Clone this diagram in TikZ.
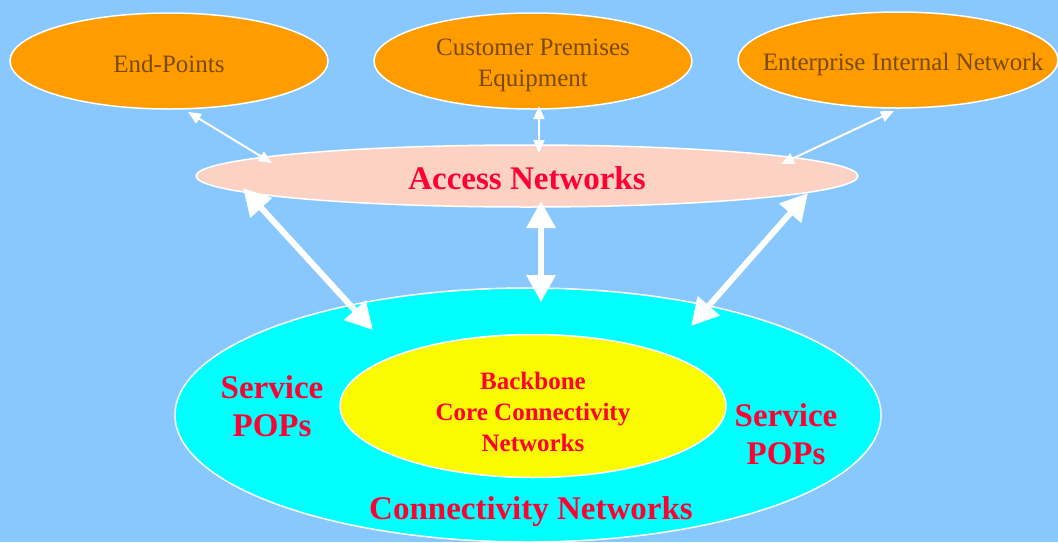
\documentclass[tikz,border=0pt]{standalone}
\usepackage{fontspec}
\setmainfont{Liberation Serif}
\usetikzlibrary{shapes.geometric,arrows.meta,calc}
\definecolor{bgblue}{RGB}{136,200,255}
\definecolor{orng}{RGB}{255,156,0}
\definecolor{pinkfill}{RGB}{252,210,196}
\definecolor{cyanfill}{RGB}{0,255,255}
\definecolor{yellowfill}{RGB}{250,250,0}
\definecolor{browntxt}{RGB}{122,74,0}
\definecolor{redtxt}{RGB}{255,0,51}
\tikzset{
  oval/.style={ellipse, draw=white, line width=1.5pt, inner sep=0pt, outer sep=0pt},
  topoval/.style={oval, fill=orng, minimum width=318pt, minimum height=96pt},
  toptext/.style={text=browntxt, font=\fontsize{25}{31}\selectfont, align=center, inner sep=0pt},
  redtext/.style={text=redtxt, font=\bfseries\fontsize{33}{38}\selectfont, align=center, inner sep=0pt},
  coretext/.style={text=redtxt, font=\bfseries\fontsize{25}{31}\selectfont, align=center, inner sep=0pt},
  thinarrow/.style={white, line width=2pt, {Triangle[length=13pt,width=11pt]}-{Triangle[length=13pt,width=11pt]}},
  thickarrow/.style={white, line width=6pt, {Triangle[length=27pt,width=28pt]}-{Triangle[length=27pt,width=28pt]}}
}
\begin{document}
\begin{tikzpicture}[x=1pt,y=-1pt]
\fill[bgblue] (0,0) rectangle (1058,542);
\useasboundingbox (0,0) rectangle (1058,542);
% top ellipses
\node[topoval] (ep) at (169,61) {};
\node[topoval] (cpe) at (533,61) {};
\node[topoval, minimum width=320pt] (ein) at (898,60) {};
\node[toptext] (eptxt) at (169,64) {End-Points};
\node[toptext] (cpetxt) at (533,65) {Customer Premises\\Equipment};
\node[toptext] (eintxt) at (903,64) {Enterprise Internal Network};
% access
\node[oval, fill=pinkfill, minimum width=662pt, minimum height=62pt] (acc) at (527,176) {};
\node[redtext] (acctxt) at (527,178) {Access Networks};
% connectivity
\node[oval, fill=cyanfill, minimum width=706pt, minimum height=254pt] (con) at (528,415) {};
\node[oval, fill=yellowfill, minimum width=386pt, minimum height=143pt] (bb) at (533,406) {};
\node[coretext] (bbtxt) at (533,412) {Backbone\\Core Connectivity\\Networks};
\node[redtext] (sp1) at (272,406) {Service\\POPs};
\node[redtext] (sp2) at (786,434) {Service\\POPs};
\node[redtext] (contxt) at (531,512) {Connectivity Networks};
% thin arrows
\draw[thinarrow] ($(ep)+(19,51)$) -- ($(acc)+(-255,-13)$);
\draw[thinarrow] ($(cpe)+(6,45)$) -- ($(acc)+(12,-23)$);
\draw[thinarrow] ($(ein)+(-4,51)$) -- ($(acc)+(254,-12)$);
% thick arrows
\draw[thickarrow] ($(acc)+(-284,12)$) -- ($(con)+(-155,-85)$);
\draw[thickarrow] ($(acc)+(14,25)$) -- ($(con)+(13,-113)$);
\draw[thickarrow] ($(acc)+(281,17)$) -- ($(con)+(163,-89)$);
\end{tikzpicture}
\end{document}
